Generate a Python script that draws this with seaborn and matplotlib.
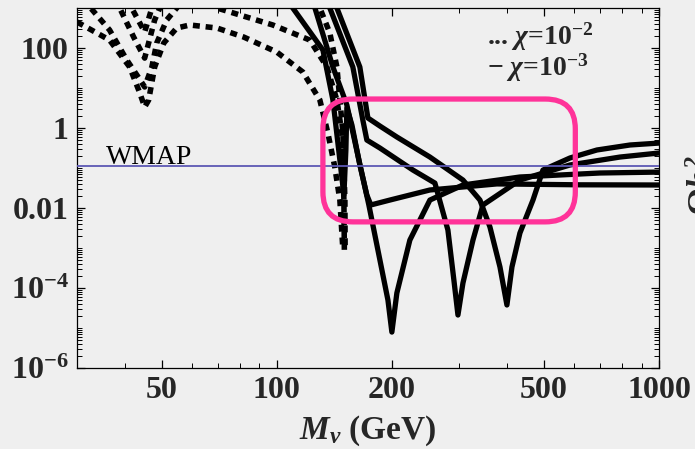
import matplotlib
matplotlib.use("Agg")
import matplotlib.pyplot as plt
import seaborn as sns
import pandas as pd
import numpy as np
from matplotlib.patches import FancyBboxPatch
from matplotlib.ticker import FixedLocator, FixedFormatter, NullFormatter

# ---------------- data: M_nu (GeV) and Omega h^2 ----------------
# chi = 1e-2 (dotted)
d1_m = [30, 36.5, 41.2, 43.8, 45.1, 46.2, 47.9, 50.6, 54.7, 59.2, 69.7, 81.9, 100, 117, 129.6, 136, 141.8, 146.2, 148.9]
d1_o = [447, 158, 33.5, 7.5, 3.35, 5.0, 33.5, 133, 316, 376, 316, 188, 79, 25, 5.0, 0.75, 0.106, 0.0158, 9e-4]
d2_m = [30, 32.4, 36.5, 40.5, 43.5, 45.1, 47.1, 48.5, 51.5, 54.7, 58, 66, 69.7, 97.6, 122, 135.2, 143.6, 148, 148.9, 149.8, 150.2]
d2_o = [2500, 1060, 282, 50, 18, 10.6, 33.5, 133, 501, 1000, 2500, 2500, 1000, 376, 158, 33.5, 5.0, 0.75, 0.106, 0.0158, 9e-4]
d3_m = [37, 38.8, 42.2, 45.1, 47.9, 49.4, 52, 125, 129.6, 137.6, 143.6, 146.2, 148.9, 149.8, 150.7, 150.9]
d3_o = [2500, 1000, 188, 56, 501, 1000, 2500, 2500, 1000, 237, 33.5, 5.0, 0.75, 0.106, 0.0158, 9e-4]
d4_m = [40, 41.7, 45.1, 47.1, 48.5]
d4_o = [2500, 1000, 251, 1000, 2500]

# chi = 1e-3 (solid)
s1_m = [106.2, 110.1, 132.0, 140.2, 146.2, 149.8, 151.6, 152.5, 157.2, 164.9, 172.0, 176.2, 197.6, 251.5, 376.6, 621, 1000]
s1_o = [1680, 1000, 89, 5.0, 0.158, 0.0211, 0.282, 3.16, 1.19, 0.119, 0.0211, 0.0119, 0.0158, 0.0282, 0.040, 0.038, 0.0376]
s2_m = [123.5, 125.8, 140.2, 152.5, 162.9, 174.1, 186.1, 195.3, 200, 206.1, 222.9, 251.5, 306.9, 432.6, 700.7, 1000]
s2_o = [1680, 1000, 33.5, 3.76, 0.211, 0.0119, 5e-4, 5e-5, 7.9e-6, 7.5e-5, 1.58e-3, 0.0158, 0.0376, 0.0596, 0.075, 0.079]
s3_m = [134.4, 137.6, 158.1, 167.9, 172, 186.1, 227, 259.2, 280.3, 290.6, 297.8, 306.9, 326, 346.2, 432.6, 584.8, 790.7, 1000]
s3_o = [1680, 1000, 33.5, 1.58, 0.5, 0.316, 0.089, 0.042, 2.82e-3, 1.58e-4, 2.11e-5, 1.33e-4, 1.58e-3, 0.0119, 0.05, 0.119, 0.188, 0.237]
s4_m = [140.2, 143.6, 164.9, 173.1, 186.1, 206.1, 251.5, 306.9, 340, 361.1, 383.6, 400, 412.3, 432.6, 468, 497, 584.8, 688, 839.8, 1000]
s4_o = [1680, 1000, 33.5, 1.78, 1.12, 0.596, 0.188, 0.05, 0.0158, 3.35e-3, 3.35e-4, 3.76e-5, 3.35e-4, 2.37e-3, 0.0158, 0.089, 0.178, 0.282, 0.376, 0.42]

wmap = 0.115
box_m = [132, 604]        # pink region, GeV
box_o = [0.0045, 5.3]     # pink region, Omega h^2

x_lim = [30, 1000]
y_lim = [1e-6, 1000]
x_ticks = [50, 100, 200, 500, 1000]
x_ticklabels = ["50", "100", "200", "500", "1000"]
y_ticks = [1e-6, 1e-4, 1e-2, 1, 100]
y_ticklabels = [r"$\mathbf{10^{-6}}$", r"$\mathbf{10^{-4}}$", "0.01", "1", "100"]
legend_lines = [r"... $\chi$=10$^{-2}$", r"$-$ $\chi$=10$^{-3}$"]

# ---------------- style ----------------
bg = "#efefef"
sns.set_theme(style="ticks")
plt.rcParams.update({
    "font.family": ["Liberation Serif", "DejaVu Serif"],
    "font.weight": "bold",
    "mathtext.fontset": "custom",
    "mathtext.rm": "Liberation Serif:bold",
    "mathtext.bf": "Liberation Serif:bold",
    "mathtext.it": "Liberation Serif:italic:bold",
    "axes.facecolor": bg,
    "figure.facecolor": bg,
    "axes.edgecolor": "black",
    "axes.linewidth": 0.9,
})

fig = plt.figure(figsize=(6.95, 4.49), dpi=100)
ax = fig.add_axes([77 / 695, 81 / 449, 582 / 695, 360 / 449])
ax.set_xscale("log")
ax.set_yscale("log")
ax.set_xlim(*x_lim)
ax.set_ylim(*y_lim)

dotted = [(d1_m, d1_o), (d2_m, d2_o), (d3_m, d3_o), (d4_m, d4_o)]
solid = [(s1_m, s1_o), (s2_m, s2_o), (s3_m, s3_o), (s4_m, s4_o)]

for m, o in dotted:
    df = pd.DataFrame({"m": m, "o": o})
    sns.lineplot(data=df, x="m", y="o", ax=ax, sort=False, estimator=None,
                 color="black", lw=4.0, linestyle=(0, (1.25, 1.05)),
                 dash_capstyle="butt")
for m, o in solid:
    df = pd.DataFrame({"m": m, "o": o})
    sns.lineplot(data=df, x="m", y="o", ax=ax, sort=False, estimator=None,
                 color="black", lw=3.8, solid_joinstyle="round")

ax.axhline(wmap, color="#5c58b4", lw=1.3, zorder=3)
ax.text(35.7, 0.128, "WMAP", fontsize=20, fontweight="normal",
        color="black", va="baseline", ha="left")

# pink rounded rectangle, placed in axes fractions computed from log limits
lx = np.log10(x_lim)
ly = np.log10(y_lim)
fx = (np.log10(box_m) - lx[0]) / (lx[1] - lx[0])
fy = (np.log10(box_o) - ly[0]) / (ly[1] - ly[0])
rad = 30 / 582
box = FancyBboxPatch((fx[0], fy[0]), fx[1] - fx[0], fy[1] - fy[0],
                     boxstyle=f"round,pad=0,rounding_size={rad}",
                     mutation_aspect=582 / 360,
                     transform=ax.transAxes, fill=False,
                     edgecolor="#ff3399", lw=3.8, zorder=4)
ax.add_patch(box)

ax.xaxis.set_major_locator(FixedLocator(x_ticks))
ax.xaxis.set_major_formatter(FixedFormatter(x_ticklabels))
ax.xaxis.set_minor_locator(FixedLocator([30, 40, 60, 70, 80, 90, 300, 400, 600, 700, 800, 900]))
ax.xaxis.set_minor_formatter(NullFormatter())
ax.yaxis.set_major_locator(FixedLocator(y_ticks))
ax.yaxis.set_major_formatter(FixedFormatter(y_ticklabels))
ymin = [k * 10.0 ** e for e in range(-6, 3) for k in range(1, 10)
        if not (k == 1 and e % 2 == 0)]
ax.yaxis.set_minor_locator(FixedLocator(ymin))
ax.yaxis.set_minor_formatter(NullFormatter())

ax.tick_params(which="both", direction="in", top=True, right=True, color="black")
ax.tick_params(which="major", length=6, width=0.9, labelsize=23, pad=6)
ax.tick_params(which="minor", length=3.5, width=0.7)
for lab in ax.get_xticklabels() + ax.get_yticklabels():
    lab.set_fontweight("bold")

ax.set_xlabel(r"$M_\nu$ (GeV)", fontsize=24, fontweight="bold", labelpad=6)
ax.set_ylabel("")

# legend text (one two-line text block)
fig.text(487 / 695, 1 - 20 / 449, "\n".join(legend_lines), fontsize=20,
         ha="left", va="top", linespacing=0.95)

# axis titles, cut off by the image edges as in the reference
fig.text(703 / 695, 1 - 185 / 449, r"$\Omega h^2$", fontsize=24, rotation=90,
         ha="center", va="center")
fig.text(-10 / 695, 1 - 205 / 449, r"$\Omega h^2$", fontsize=24, rotation=90,
         ha="center", va="center")

fig.savefig("out.png", dpi=100, facecolor=bg)
